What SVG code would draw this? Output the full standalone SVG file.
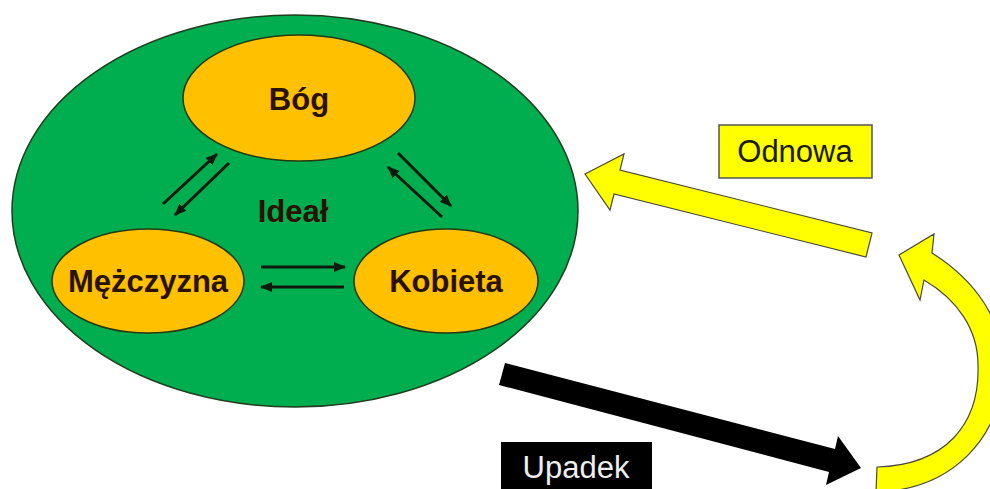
<svg xmlns="http://www.w3.org/2000/svg" width="990" height="489" viewBox="0 0 990 489">
<defs>
<marker id="ah" markerUnits="userSpaceOnUse" markerWidth="12" markerHeight="10" refX="11" refY="5" orient="auto">
<path d="M0,0 L12,5 L0,10 Z" fill="#0d1a0d"/>
</marker>
</defs>
<style>
.node{fill:#ffc000;stroke:#243a10;stroke-width:1.5}
.nt{font-family:"Liberation Sans",Arial,sans-serif;font-weight:bold;font-size:31px;fill:#2a1200;text-anchor:middle}
.lbl{font-family:"Liberation Sans",Arial,sans-serif;font-size:31px;text-anchor:middle}
.sm{stroke:#0d1a0d;stroke-width:3;fill:none;marker-end:url(#ah)}
.yel{fill:#ffff00;stroke:#4a4a3a;stroke-width:1.2;stroke-linejoin:miter}
</style>
<rect width="990" height="489" fill="#ffffff"/>
<g id="ideal">
<ellipse cx="295" cy="211" rx="283" ry="196" fill="#00ae4f" stroke="#1f3d1f" stroke-width="1.5"/>
<text class="nt" x="293" y="222" font-size="30">Ideał</text>
</g>
<g id="bog">
<ellipse class="node" cx="299" cy="98" rx="116" ry="63"/>
<text class="nt" x="299" y="110">Bóg</text>
</g>
<g id="mezczyzna">
<ellipse class="node" cx="148" cy="281" rx="96" ry="52"/>
<text class="nt" x="148" y="292">Mężczyzna</text>
</g>
<g id="kobieta">
<ellipse class="node" cx="446" cy="281" rx="92" ry="52"/>
<text class="nt" x="446" y="292">Kobieta</text>
</g>
<g id="odnowa">
<rect x="719" y="125" width="153" height="53" fill="#ffff00" stroke="#555" stroke-width="1.5"/>
<text class="lbl" x="795" y="162" fill="#1a1a00">Odnowa</text>
</g>
<g id="upadek">
<rect x="501" y="442" width="151" height="52" fill="#000"/>
<text class="lbl" x="576" y="478" fill="#eeeeee">Upadek</text>
</g>
<g id="connectors">
<line class="sm" x1="163" y1="204" x2="217" y2="154"/>
<line class="sm" x1="229" y1="163" x2="175" y2="215"/>
<line class="sm" x1="442" y1="217" x2="388" y2="167"/>
<line class="sm" x1="398" y1="153" x2="451" y2="206"/>
<line class="sm" x1="261" y1="267" x2="345" y2="267"/>
<line class="sm" x1="344" y1="287" x2="261" y2="287"/>
<polygon points="505,363 835,449 838,436 861,468 826,485 829,472 499,385" fill="#000"/>
<polygon class="yel" points="585,174 624,154 620,170 872,233 866,257 614,194 610,210"/>
<path class="yel" d="M877,467 C945,465 980,425 978,365 C978,330 958,300 924,280 L920,300 L899,255 L934,234 L932,253 C975,280 1003,320 1003,365 C1003,440 950,490 876,492 Z"/>
</g>
</svg>
